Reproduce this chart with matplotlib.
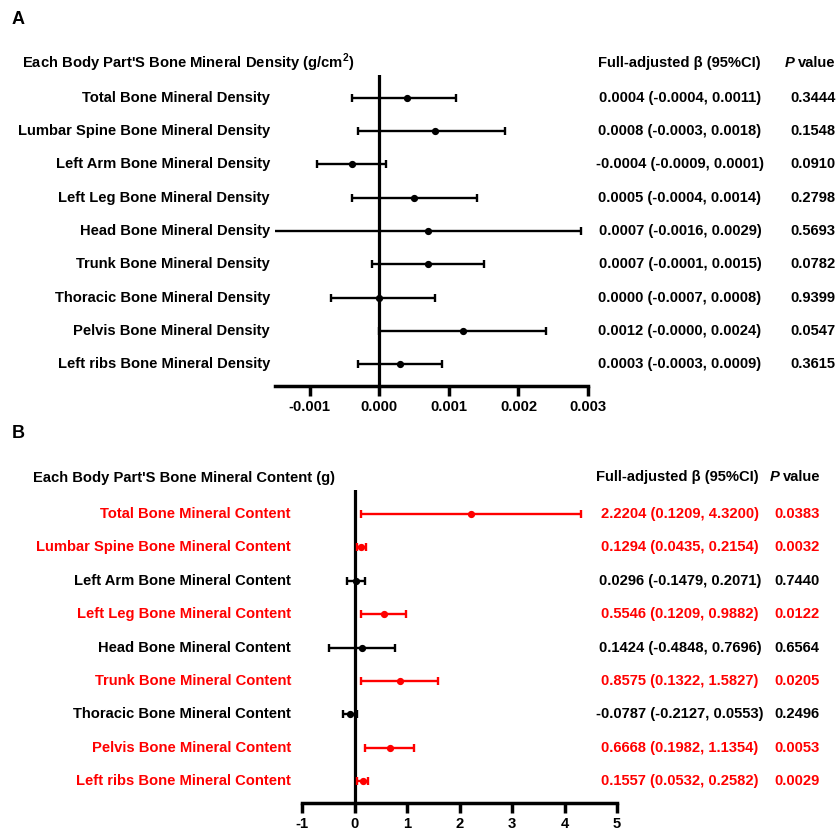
import matplotlib
matplotlib.use("Agg")
import matplotlib.pyplot as plt
import matplotlib.transforms as mtransforms

plt.rcParams['font.family'] = ['Liberation Sans', 'DejaVu Sans']
plt.rcParams['font.weight'] = 'bold'
plt.rcParams['mathtext.fontset'] = 'custom'
plt.rcParams['mathtext.bf'] = 'Liberation Sans:bold'
plt.rcParams['mathtext.rm'] = 'Liberation Sans:bold'

# ---------------- Panel A data ----------------
a_labels = ["Total Bone Mineral Density", "Lumbar Spine Bone Mineral Density",
            "Left Arm Bone Mineral Density", "Left Leg Bone Mineral Density",
            "Head Bone Mineral Density", "Trunk Bone Mineral Density",
            "Thoracic Bone Mineral Density", "Pelvis Bone Mineral Density",
            "Left ribs Bone Mineral Density"]
a_beta = [0.0004, 0.0008, -0.0004, 0.0005, 0.0007, 0.0007, 0.0000, 0.0012, 0.0003]
a_low = [-0.0004, -0.0003, -0.0009, -0.0004, -0.0016, -0.0001, -0.0007, -0.0000, -0.0003]
a_high = [0.0011, 0.0018, 0.0001, 0.0014, 0.0029, 0.0015, 0.0008, 0.0024, 0.0009]
a_ci_text = ["0.0004 (-0.0004, 0.0011)", "0.0008 (-0.0003, 0.0018)",
             "-0.0004 (-0.0009, 0.0001)", "0.0005 (-0.0004, 0.0014)",
             "0.0007 (-0.0016, 0.0029)", "0.0007 (-0.0001, 0.0015)",
             "0.0000 (-0.0007, 0.0008)", "0.0012 (-0.0000, 0.0024)",
             "0.0003 (-0.0003, 0.0009)"]
a_p = ["0.3444", "0.1548", "0.0910", "0.2798", "0.5693", "0.0782", "0.9399", "0.0547", "0.3615"]
a_ticks = [-0.001, 0.000, 0.001, 0.002, 0.003]
a_ticklabels = ["-0.001", "0.000", "0.001", "0.002", "0.003"]
a_sig = [False] * 9

# ---------------- Panel B data ----------------
b_labels = ["Total Bone Mineral Content", "Lumbar Spine Bone Mineral Content",
            "Left Arm Bone Mineral Content", "Left Leg Bone Mineral Content",
            "Head Bone Mineral Content", "Trunk Bone Mineral Content",
            "Thoracic Bone Mineral Content", "Pelvis Bone Mineral Content",
            "Left ribs Bone Mineral Content"]
b_beta = [2.2204, 0.1294, 0.0296, 0.5546, 0.1424, 0.8575, -0.0787, 0.6668, 0.1557]
b_low = [0.1209, 0.0435, -0.1479, 0.1209, -0.4848, 0.1322, -0.2127, 0.1982, 0.0532]
b_high = [4.3200, 0.2154, 0.2071, 0.9882, 0.7696, 1.5827, 0.0553, 1.1354, 0.2582]
b_ci_text = ["2.2204 (0.1209, 4.3200)", "0.1294 (0.0435, 0.2154)",
             "0.0296 (-0.1479, 0.2071)", "0.5546 (0.1209, 0.9882)",
             "0.1424 (-0.4848, 0.7696)", "0.8575 (0.1322, 1.5827)",
             "-0.0787 (-0.2127, 0.0553)", "0.6668 (0.1982, 1.1354)",
             "0.1557 (0.0532, 0.2582)"]
b_p = ["0.0383", "0.0032", "0.7440", "0.0122", "0.6564", "0.0205", "0.2496", "0.0053", "0.0029"]
b_ticks = [-1, 0, 1, 2, 3, 4, 5]
b_ticklabels = ["-1", "0", "1", "2", "3", "4", "5"]
b_sig = [True, True, False, True, False, True, False, True, True]

W, H = 839, 830
fig = plt.figure(figsize=(W / 100, H / 100), dpi=100)

RED = "#FF0000"
FS = 10.6


def px_box(x0, y0, x1, y1):
    return [x0 / W, 1 - y1 / H, (x1 - x0) / W, (y1 - y0) / H]


def draw_panel(ax, labels, beta, low, high, ci_text, pvals, sig, ticks, ticklabels,
               xlim, ylim, label_x, header, header_x, header_y,
               ci_x, p_x, hdr_ci_x, hdr_p_x, col_hdr_y):
    n = len(labels)
    for i in range(n):
        c = RED if sig[i] else "black"
        ax.errorbar([beta[i]], [i], xerr=[[beta[i] - low[i]], [high[i] - beta[i]]],
                    fmt='o', color=c, ecolor=c, elinewidth=1.7, capsize=3,
                    capthick=1.7, markersize=4.2, zorder=3)
    ax.axvline(0, color="black", lw=2.3, zorder=2)
    ax.set_xlim(*xlim)
    ax.set_ylim(*ylim)
    for s in ["top", "right", "left"]:
        ax.spines[s].set_visible(False)
    ax.spines["bottom"].set_linewidth(2.5)
    ax.set_yticks([])
    ax.set_xticks(ticks)
    ax.set_xticklabels(ticklabels, fontsize=FS, fontweight='bold')
    ax.tick_params(axis='x', length=7, width=2.5, pad=3)

    trans = mtransforms.blended_transform_factory(fig.transFigure, ax.transData)
    for i in range(n):
        c = RED if sig[i] else "black"
        fig.text(label_x / W, i, labels[i], transform=trans, ha='right', va='center',
                 fontsize=FS, fontweight='bold', color=c)
        fig.text(ci_x / W, i, ci_text[i], transform=trans, ha='center', va='center',
                 fontsize=FS, fontweight='bold', color=c)
        fig.text(p_x / W, i, pvals[i], transform=trans, ha='center', va='center',
                 fontsize=FS, fontweight='bold', color=c)
    fig.text(header_x / W, 1 - header_y / H, header, ha='center', va='center',
             fontsize=FS, fontweight='bold')
    fig.text(hdr_ci_x / W, 1 - col_hdr_y / H, "Full-adjusted β (95%CI)", ha='center',
             va='center', fontsize=FS, fontweight='bold')
    # "P value" with italic P
    fig.text(hdr_p_x / W, 1 - col_hdr_y / H, "value",
             ha='left', va='center', fontsize=FS, fontweight='bold')
    fig.text((hdr_p_x - 3) / W, 1 - col_hdr_y / H, "P", ha='right', va='center',
             fontsize=FS, fontweight='bold', fontstyle='italic')


# Panel A
axA = fig.add_axes(px_box(275, 75, 588, 386))
draw_panel(axA, a_labels, a_beta, a_low, a_high, a_ci_text, a_p, a_sig,
           a_ticks, a_ticklabels, (-0.0015, 0.003), (8.66, -0.69),
           label_x=270, header=r"Each Body Part'S Bone Mineral Density (g/cm$^{\mathbf{2}}$)",
           header_x=188, header_y=63, ci_x=680, p_x=813,
           hdr_ci_x=679, hdr_p_x=798, col_hdr_y=63)

# Panel B
axB = fig.add_axes(px_box(302, 490, 617, 803))
draw_panel(axB, b_labels, b_beta, b_low, b_high, b_ci_text, b_p, b_sig,
           b_ticks, b_ticklabels, (-1, 5), (8.66, -0.72),
           label_x=291, header="Each Body Part'S Bone Mineral Content (g)",
           header_x=184, header_y=478, ci_x=680, p_x=797,
           hdr_ci_x=677, hdr_p_x=783, col_hdr_y=477)

fig.text(12 / W, 1 - 20 / H, "A", ha='left', va='center', fontsize=13, fontweight='bold')
fig.text(12 / W, 1 - 433 / H, "B", ha='left', va='center', fontsize=13, fontweight='bold')

fig.savefig("out.png", dpi=100)
